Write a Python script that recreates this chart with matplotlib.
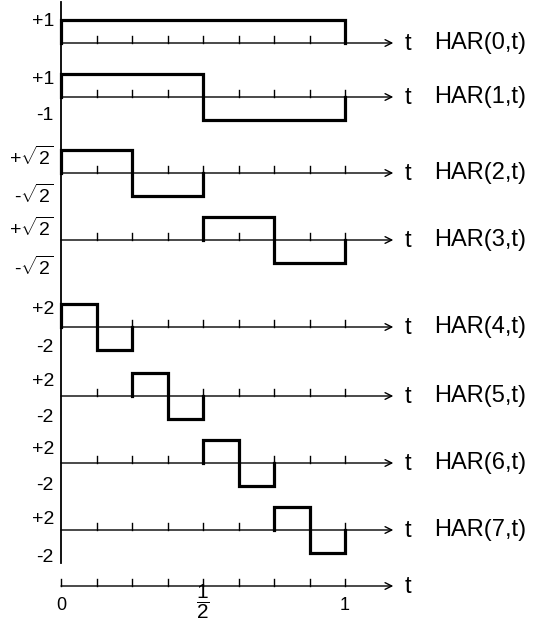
import numpy as np
import matplotlib
matplotlib.use('Agg')
import matplotlib.pyplot as plt

plt.rcParams['font.family'] = ['Liberation Sans', 'DejaVu Sans']
plt.rcParams['mathtext.fontset'] = 'custom'
plt.rcParams['mathtext.rm'] = 'Liberation Sans'
plt.rcParams['mathtext.it'] = 'Liberation Sans'

#######################################################################
# Haar functions HAR(n,t): breakpoints in t and the value on each piece
#######################################################################
s2 = np.sqrt(2)
names = ['HAR(0,t)', 'HAR(1,t)', 'HAR(2,t)', 'HAR(3,t)',
         'HAR(4,t)', 'HAR(5,t)', 'HAR(6,t)', 'HAR(7,t)']
edges = [
    [0, 1],
    [0, 1/2, 1],
    [0, 1/4, 1/2],
    [1/2, 3/4, 1],
    [0, 1/8, 1/4],
    [1/4, 3/8, 1/2],
    [1/2, 5/8, 3/4],
    [3/4, 7/8, 1],
]
levels = [
    [1],
    [1, -1],
    [s2, -s2],
    [s2, -s2],
    [2, -2],
    [2, -2],
    [2, -2],
    [2, -2],
]
amp_labels = [
    ['+1'],
    ['+1', '-1'],
    [r'+$\sqrt{2}$', r'-$\sqrt{2}$'],
    [r'+$\sqrt{2}$', r'-$\sqrt{2}$'],
    ['+2', '-2'],
    ['+2', '-2'],
    ['+2', '-2'],
    ['+2', '-2'],
]
tick_t = [k / 8 for k in range(1, 9)]
bottom_ticks = [0, 1/2, 1]
bottom_labels = ['0', r'$\dfrac{1}{2}$', '1']

#######################################################################
# Layout (y in pixels from the top)
#######################################################################
W, H = 537, 622
X0, SCALE = 61, 284          # pixel of t=0, pixels per unit t
base_y = [43, 97, 173, 240, 327, 396, 463, 530]
label_y = [[21], [79, 116], [157, 195], [228, 267],
           [310, 347], [382, 417], [450, 485], [519, 557]]
bottom_y = 586
AMP = 23                     # drawn height of the largest value in a row
T_END = 1.17

fig = plt.figure(figsize=(W / 100, H / 100), dpi=100)
ax = fig.add_axes([0, 0, 1, 1])
ax.set_xlim(-X0 / SCALE, (W - X0) / SCALE)
ax.set_ylim(H, 0)
ax.axis('off')

thin = 1.0
thick = 2.3
tick_len = 7

# vertical axis
ax.plot([0, 0], [2, 563], color='black', lw=1.3)

def time_axis(y):
    ax.annotate('', xy=(T_END, y), xytext=(0, y),
                arrowprops=dict(arrowstyle='->', lw=thin, color='black',
                                mutation_scale=12, shrinkA=0, shrinkB=0))
    for t in tick_t:
        ax.plot([t, t], [y, y - tick_len], color='black', lw=thin)
    ax.text(T_END + 0.05, y + 7, 't', fontsize=17, ha='center', va='baseline')

for n in range(8):
    y0 = base_y[n]
    time_axis(y0)
    vals = np.array(levels[n])
    k = AMP / np.abs(vals).max()
    xs = np.repeat(edges[n], 2)
    ys = np.concatenate([[0], np.repeat(vals, 2), [0]])
    ax.plot(xs, y0 - ys * k, color='black', lw=thick, solid_joinstyle='miter')
    for ly, lab in zip(label_y[n], amp_labels[n]):
        ax.text(-0.025, ly, lab, fontsize=14, ha='right', va='center')
    ax.text(1.315, y0, names[n], fontsize=17, ha='left', va='center')

# bottom reference axis
time_axis(bottom_y)
ax.plot([0, 0], [bottom_y, bottom_y - tick_len], color='black', lw=thin)
for t, lab in zip(bottom_ticks, bottom_labels):
    if lab.startswith('$'):
        ax.text(t, 621, lab, fontsize=15, ha='center', va='bottom')
    else:
        ax.text(t, 606, lab, fontsize=13, ha='center', va='center')

fig.savefig('out.png', dpi=100)
